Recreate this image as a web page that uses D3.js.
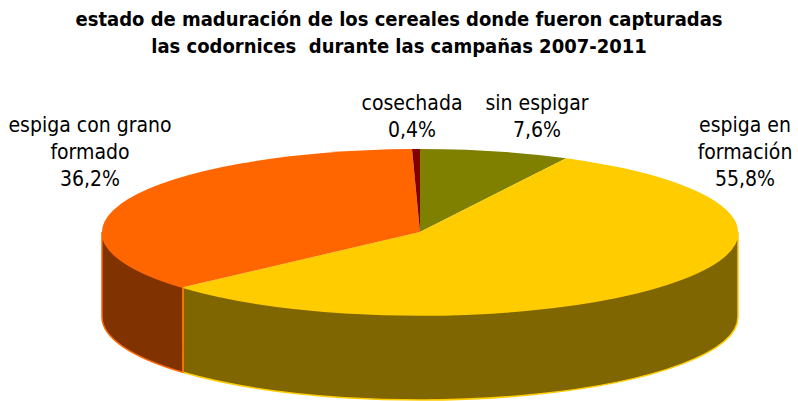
<!DOCTYPE html>
<html>
<head>
<meta charset="utf-8">
<script src="https://cdn.jsdelivr.net/npm/d3@7"></script>
<style>
  body { margin: 0; background: #fff; }
  text { font-family: Tahoma, "DejaVu Sans Condensed", "DejaVu Sans", sans-serif; fill: #000; white-space: pre; }
</style>
</head>
<body>
<svg width="798" height="401"></svg>
<script>
// datos del gráfico
const categorias = ["sin espigar", "espiga en formación", "espiga con grano formado", "cosechada"];
const porcentajes = [7.6, 55.8, 36.2, 0.4];
const lineasEtiqueta = [["sin espigar"], ["espiga en", "formación"], ["espiga con grano", "formado"], ["cosechada"]];
const titulo = ["estado de maduración de los cereales donde fueron capturadas", "las codornices  durante las campañas 2007-2011"];

// colores (tapa / lateral)
const colorTapa = ["#808000", "#FFCC00", "#FF6600", "#800000"];
const colorLado = ["#666600", "#806600", "#803300", "#400000"];

// geometría del pastel 3D
const cx = 420, cy = 232, rx = 318, ry = 83, alto = 85;
const k = ry / rx;
// posición de las etiquetas (centro, línea base de la primera línea)
const posEtiqueta = [[537, 110], [745, 132], [90, 132], [412, 110]];

const svg = d3.select("svg");

svg.selectAll(".titulo")
  .data(titulo)
  .enter()
  .append("text")
  .attr("class", "titulo")
  .attr("x", 399)
  .attr("y", (d, i) => 26 + i * 27)
  .attr("text-anchor", "middle")
  .attr("font-weight", "bold")
  .attr("font-size", 20)
  .text((d) => d);

const pie = d3.pie().sort(null).value((d) => d)(porcentajes);

const g = svg.append("g").attr("transform", `translate(${cx},${cy}) scale(1,${k})`);

// lateral visible: entre 90° y 270° (mitad delantera)
const frente0 = Math.PI / 2, frente1 = Math.PI * 3 / 2;
const lados = pie
  .map((d, i) => ({ i, a0: Math.max(d.startAngle, frente0), a1: Math.min(d.endAngle, frente1) }))
  .filter((d) => d.a1 > d.a0);

g.selectAll(".lado")
  .data(lados)
  .enter()
  .append("path")
  .attr("class", "lado")
  .attr("d", (d) => {
    const p = d3.path();
    p.arc(0, 0, rx, d.a0 - Math.PI / 2, d.a1 - Math.PI / 2, false);
    p.arc(0, alto / k, rx, d.a1 - Math.PI / 2, d.a0 - Math.PI / 2, true);
    p.closePath();
    return p.toString();
  })
  .attr("fill", (d) => colorLado[d.i])
  .attr("stroke", (d) => colorTapa[d.i])
  .attr("stroke-width", 1.5)
  .attr("vector-effect", "non-scaling-stroke");

const arco = d3.arc().innerRadius(0).outerRadius(rx);

g.selectAll(".tapa")
  .data(pie)
  .enter()
  .append("path")
  .attr("class", "tapa")
  .attr("d", arco)
  .attr("fill", (d, i) => colorTapa[i]);

// etiquetas
const etiquetas = svg.selectAll(".etiqueta")
  .data(pie)
  .enter()
  .append("text")
  .attr("class", "etiqueta")
  .attr("text-anchor", "middle")
  .attr("font-size", 21);

etiquetas.each(function (d, i) {
  const lineas = lineasEtiqueta[i].concat([d3.format(".1f")(d.value).replace(".", ",") + "%"]);
  d3.select(this)
    .selectAll("tspan")
    .data(lineas)
    .enter()
    .append("tspan")
    .attr("x", posEtiqueta[i][0])
    .attr("y", (l, j) => posEtiqueta[i][1] + j * 27)
    .text((l) => l);
});
</script>
</body>
</html>
